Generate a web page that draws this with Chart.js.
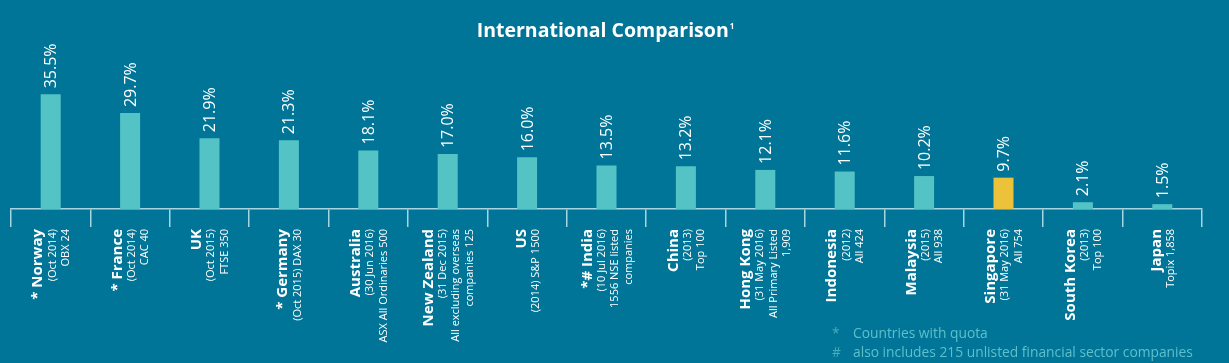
<!DOCTYPE html>
<html>
<head>
<meta charset="utf-8">
<script src="https://cdn.jsdelivr.net/npm/chart.js@4.4.0/dist/chart.umd.min.js"></script>
<style>
  html, body { margin: 0; padding: 0; background: #007597; }
  #wrap { width: 1229px; height: 363px; position: relative; }
</style>
</head>
<body>
<div id="wrap"><canvas id="c" width="1229" height="363"></canvas></div>
<script>
// ---- data ----
const countries = ['* Norway', '* France', 'UK', '* Germany', 'Australia', 'New Zealand', 'US', '*# India', 'China', 'Hong Kong', 'Indonesia', 'Malaysia', 'Singapore', 'South Korea', 'Japan'];
const details = [
  ['(Oct 2014)', 'OBX 24'],
  ['(Oct 2014)', 'CAC 40'],
  ['(Oct 2015)', 'FTSE 350'],
  ['(Oct 2015) DAX 30'],
  ['(30 Jun 2016)', 'ASX All Ordinaries 500'],
  ['(31 Dec 2015)', 'All excluding overseas', 'companies 125'],
  ['(2014) S&P 1500'],
  ['(10 Jul 2016)', '1556 NSE listed', 'companies'],
  ['(2013)', 'Top 100'],
  ['(31 May 2016)', 'All Primary Listed', '1,909'],
  ['(2012)', 'All 424'],
  ['(2015)', 'All 938'],
  ['(31 May 2016)', 'All 754'],
  ['(2013)', 'Top 100'],
  ['Topix 1,858']
];
const values = [35.5, 29.7, 21.9, 21.3, 18.1, 17.0, 16.0, 13.5, 13.2, 12.1, 11.6, 10.2, 9.7, 2.1, 1.5];
const highlight = 'Singapore';
const titleText = 'International Comparison';
const titleSup = '1';
const footnotes = [['*', 'Countries with quota'], ['#', 'also includes 215 unlisted financial sector companies']];

const BG = '#007597';
const BAR = '#54c3c6';
const BAR_HI = '#ecc23a';
const AXIS = '#a8d5e2';
const FOOT = '#5dc0cc';
const FONT = '"Open Sans", "DejaVu Sans", sans-serif';

const bgPlugin = {
  id: 'bg',
  beforeDraw(chart) {
    const ctx = chart.ctx;
    ctx.save();
    ctx.fillStyle = BG;
    ctx.fillRect(0, 0, chart.width, chart.height);
    ctx.restore();
  }
};

const decor = {
  id: 'decor',
  afterDraw(chart) {
    const ctx = chart.ctx;
    const xs = chart.scales.x;
    const ys = chart.scales.y;
    const meta = chart.getDatasetMeta(0);
    ctx.save();
    // title
    ctx.fillStyle = '#ffffff';
    ctx.font = 'bold 19.5px ' + FONT;
    ctx.textBaseline = 'alphabetic';
    const tw = ctx.measureText(titleText).width;
    ctx.font = 'bold 8px ' + FONT;
    const sw = ctx.measureText(titleSup).width;
    const tx = 605 - (tw + sw) / 2;
    ctx.font = 'bold 19.5px ' + FONT;
    ctx.textAlign = 'left';
    ctx.fillText(titleText, tx, 37);
    ctx.font = 'bold 8px ' + FONT;
    ctx.fillText(titleSup, tx + tw + 1, 29);

    // value labels
    meta.data.forEach((bar, i) => {
      ctx.save();
      ctx.translate(bar.x, bar.y - 6);
      ctx.rotate(-Math.PI / 2);
      ctx.font = '16px ' + FONT;
      ctx.fillStyle = '#ffffff';
      ctx.textAlign = 'left';
      ctx.textBaseline = 'middle';
      ctx.fillText(values[i].toFixed(1) + '%', 0, 1);
      ctx.restore();
    });

    // category labels
    const yTop = ys.bottom + 20;
    countries.forEach((name, i) => {
      const cx = xs.getPixelForValue(i);
      const lines = details[i];
      const B = 17, S = 13.5;
      const total = B + S * lines.length;
      const start = cx - total / 2;
      ctx.save();
      ctx.fillStyle = '#ffffff';
      ctx.textAlign = 'right';
      ctx.textBaseline = 'middle';
      ctx.translate(0, yTop);
      ctx.rotate(-Math.PI / 2);
      ctx.font = 'bold 15px ' + FONT;
      ctx.fillText(name, 0, start + B / 2 + 1);
      ctx.font = '11px ' + FONT;
      lines.forEach((ln, k) => {
        ctx.fillText(ln, 0, start + B + S * k + S / 2);
      });
      ctx.restore();
    });

    // footnotes
    ctx.font = '13.8px ' + FONT;
    ctx.textBaseline = 'alphabetic';
    ctx.textAlign = 'left';
    footnotes.forEach((f, k) => {
      const y = 338 + k * 19;
      ctx.fillStyle = FOOT;
      ctx.globalAlpha = 0.75;
      ctx.fillText(f[0], 832, y);
      ctx.globalAlpha = 1;
      ctx.fillText(f[1], 853, y);
    });
    ctx.restore();
  }
};

new Chart(document.getElementById('c'), {
  type: 'bar',
  data: {
    labels: countries,
    datasets: [{
      data: values,
      backgroundColor: countries.map(c => c === highlight ? BAR_HI : BAR),
      borderWidth: 0,
      categoryPercentage: 1,
      barPercentage: 0.252
    }]
  },
  options: {
    responsive: false,
    animation: false,
    devicePixelRatio: 1,
    layout: { padding: { left: 11, right: 27, top: 40, bottom: 136 } },
    plugins: { legend: { display: false }, title: { display: false }, tooltip: { enabled: false } },
    scales: {
      x: {
        offset: true,
        grid: { offset: true, drawOnChartArea: false, drawTicks: true, tickLength: 18, color: AXIS, lineWidth: 1.5 },
        border: { display: true, color: AXIS, width: 1.5 },
        ticks: { display: false }
      },
      y: {
        display: false,
        min: 0,
        max: 52.3
      }
    }
  },
  plugins: [bgPlugin, decor]
});
</script>
</body>
</html>
